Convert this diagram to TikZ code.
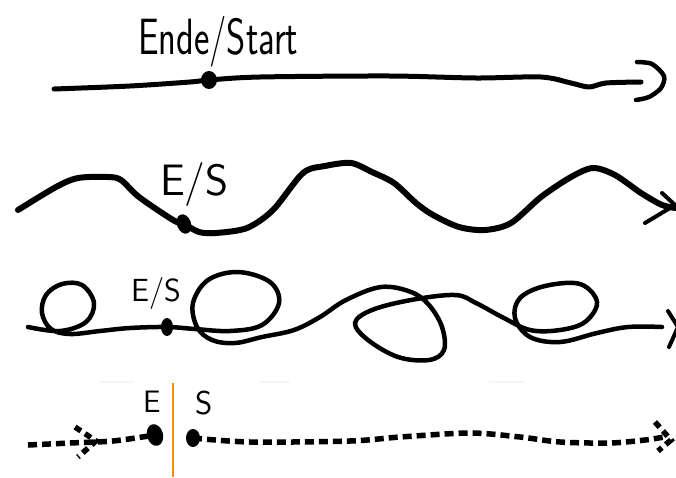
\documentclass[tikz,border=0pt]{standalone}
\usepackage{fontspec}
\begin{document}
\begin{tikzpicture}[x=1pt,y=-1pt,
  pen/.style={line width=#1, line cap=round, line join=round},
  pen/.default=5pt,
  dashpen/.style={line width=5.5pt, dash pattern=on 9pt off 5pt},
  hand/.style={font=\sffamily\fontsize{#1}{#1}\selectfont, inner sep=0pt},
  marker/.style={orange!90!yellow, line width=2.8pt},
  faint/.style={gray!8, line width=2pt}]
\useasboundingbox (0,0) rectangle (676,477);

% --- row 1: straight time line with a single end/start point
\coordinate (d1) at (209,80);
\draw[pen] plot[smooth] coordinates {(54,89) (130,86) (190,82) (d1) (260,77)
  (390,76) (476,78) (541,77) (571,83) (589,87) (606,83) (641,82)};
\draw[pen=4.5pt] plot[smooth] coordinates {(637,62) (652,64) (664,76) (661,88) (649,97) (636,100)};
\fill (d1) ellipse [x radius=8pt, y radius=9pt];
\node[hand=51, xscale=0.72, anchor=base west] (t1) at (138,54) {Ende/Start};

% --- row 2: wave
\coordinate (d2) at (184,224);
\draw[pen=6pt] plot[smooth] coordinates {(18,210) (56,187) (78,178) (108,177) (121,180)
  (139,197) (173,220) (d2) (199,232) (216,233) (247,228) (273,210) (303,173)
  (325,166) (351,163) (372,172) (394,183) (416,203) (433,215) (459,227) (485,230)
  (511,223) (541,197) (571,177) (593,168) (615,175) (641,193) (662,205) (676,208)};
\draw[pen=4pt] (662,193) -- (675,205) -- (645,223);
\fill[rotate around={20:(d2)}] (d2) ellipse [x radius=7pt, y radius=10pt];
\node[hand=44, anchor=base west] (t2) at (160,195) {E/S};

% --- row 3: line with loops
\coordinate (d3) at (167,327);
\draw[pen=4.5pt] plot[smooth, tension=0.6] coordinates {(28,327) (60,331) (86,322) (94,303)
  (82,285) (62,284) (46,295) (42,313) (51,329) (70,334) (100,331) (130,328)
  (d3) (195,329) (230,331) (262,325) (279,303) (270,282) (238,272) (208,280)
  (193,303) (197,327) (212,340) (235,343) (262,337) (294,330) (320,317)
  (346,300) (381,287) (411,292) (429,305) (442,327) (444,350) (429,360)
  (398,357) (368,340) (355,323) (372,310) (411,300) (455,295) (476,303)
  (502,317) (530,330) (560,330) (585,322) (597,302) (580,284) (545,286)
  (520,298) (515,318) (530,337) (560,342) (597,333) (628,327) (662,327)};
\draw[pen=4pt] (668,311) -- (678,327) -- (669,347);
\fill (d3) ellipse [x radius=6pt, y radius=9pt];
\node[hand=32, anchor=base west] (t3) at (131,301) {E/S};

% --- row 4: dashed line cut by a marker
\draw[faint] (100,382) -- (134,382);
\draw[faint] (260,382) -- (290,382);
\draw[faint] (489,382) -- (524,382);
\coordinate (dE) at (155,435);
\coordinate (dS) at (193,438);
\draw[dashpen] plot[smooth] coordinates {(28,445) (70,443) (113,441) (dE)};
\draw[dashpen, dash pattern=on 7pt off 5pt] (75,427) -- (96,441) -- (78,457);
\draw[dashpen] plot[smooth] coordinates {(dS) (250,442) (350,441) (400,437) (470,433)
  (520,437) (560,442) (610,443) (645,440) (664,437)};
\draw[dashpen, dash pattern=on 7pt off 5pt] (655,422) -- (671,440) -- (658,451);
\fill[rotate around={15:(dE)}] (dE) ellipse [x radius=8pt, y radius=11pt];
\fill (dS) ellipse [x radius=7pt, y radius=9pt];
\draw[marker] (173,383) -- (173,477);
\node[hand=31, anchor=base west] (tE) at (143,412) {E};
\node[hand=33, anchor=base west] (tS) at (195,414) {S};
\end{tikzpicture}
\end{document}
